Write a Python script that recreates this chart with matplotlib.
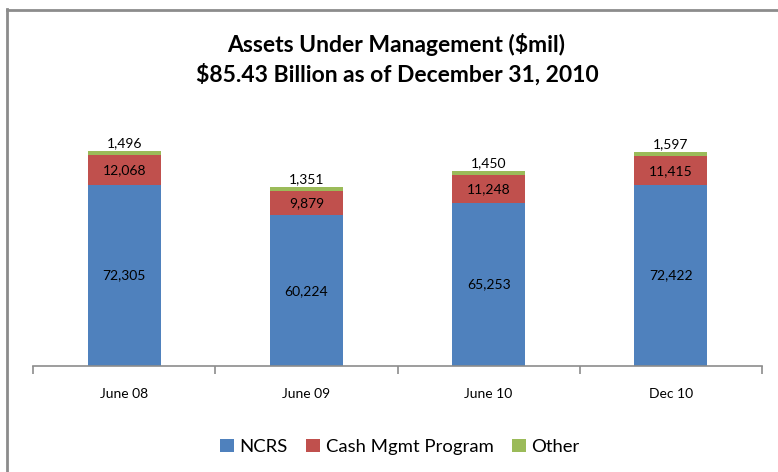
import matplotlib
matplotlib.use("Agg")
import matplotlib.pyplot as plt
from matplotlib.patches import Patch
from matplotlib.lines import Line2D

categories = ["June 08", "June 09", "June 10", "Dec 10"]
ncrs = [72305, 60224, 65253, 72422]
cash = [12068, 9879, 11248, 11415]
other = [1496, 1351, 1450, 1597]
series_names = ["NCRS", "Cash Mgmt Program", "Other"]
colors = ["#4F81BD", "#C0504D", "#9BBB59"]

plt.rcParams['font.family'] = ['Lato', 'DejaVu Sans']

W, H = 778, 472
fig = plt.figure(figsize=(W / 100, H / 100), dpi=100)
ax = fig.add_axes([33 / W, 106 / H, (762 - 33) / W, 250 / H])

x = list(range(len(categories)))
bw = 0.4
ax.bar(x, ncrs, width=bw, color=colors[0], zorder=2)
ax.bar(x, cash, width=bw, bottom=ncrs, color=colors[1], zorder=2)
bottom3 = [a + b for a, b in zip(ncrs, cash)]
ax.bar(x, other, width=bw, bottom=bottom3, color=colors[2], zorder=2)

for i in x:
    ax.text(i, ncrs[i] / 2, f"{ncrs[i]:,}", ha='center', va='center', fontsize=10, color='black')
    ax.text(i, ncrs[i] + cash[i] / 2, f"{cash[i]:,}", ha='center', va='center', fontsize=10, color='black')
    ax.text(i, bottom3[i] + other[i] + 800, f"{other[i]:,}", ha='center', va='bottom', fontsize=10, color='black')

ax.set_xlim(-0.5, len(categories) - 0.5)
ax.set_ylim(0, 100000)
for s in ['top', 'right', 'left']:
    ax.spines[s].set_visible(False)
ax.spines['bottom'].set_color('#8C8C8C')
ax.spines['bottom'].set_linewidth(1.2)
ax.set_yticks([])
ax.set_xticks([i - 0.5 for i in range(len(categories) + 1)], minor=False)
ax.set_xticklabels([])
ax.tick_params(axis='x', which='major', length=6, color='#8C8C8C', width=1.2, direction='out')
ax.set_xticks(x, minor=True)
ax.set_xticklabels(categories, minor=True, fontsize=10)
ax.tick_params(axis='x', which='minor', length=0, pad=16)

fig.text(396 / W, 1 - 45 / H, "Assets Under Management ($mil)", ha='center', va='center',
         fontsize=16.5, fontweight='bold')
fig.text(397 / W, 1 - 75 / H, "$85.43 Billion as of December 31, 2010", ha='center', va='center',
         fontsize=16.5, fontweight='bold')

handles = [Patch(facecolor=c, edgecolor='none') for c in colors]
fig.legend(handles, series_names, loc='center', bbox_to_anchor=(400 / W, 1 - 447 / H),
           ncol=3, frameon=False, fontsize=13.3, handlelength=0.75, handleheight=0.75,
           handletextpad=0.3, columnspacing=1.0)

# chart frame (left and top border)
fig.add_artist(Line2D([7 / W, 7 / W], [0, 1 - 9 / H], color='#8C8C8C', lw=2, transform=fig.transFigure))
fig.add_artist(Line2D([7 / W, 1], [1 - 9.5 / H, 1 - 9.5 / H], color='#8C8C8C', lw=2, transform=fig.transFigure))

fig.savefig("out.png", dpi=100)
